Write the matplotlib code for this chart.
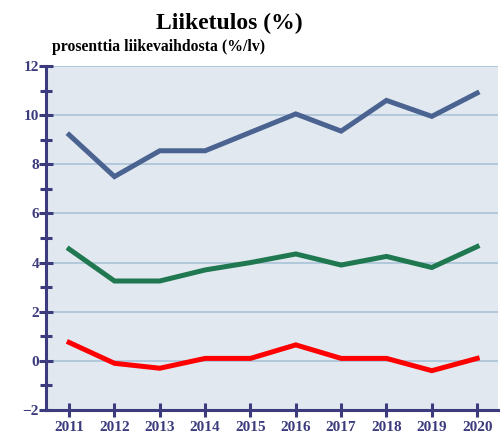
import matplotlib
matplotlib.use('Agg')
import matplotlib.pyplot as plt
from matplotlib.ticker import MultipleLocator

years = [2011, 2012, 2013, 2014, 2015, 2016, 2017, 2018, 2019, 2020]
sarja_sininen = [9.2, 7.5, 8.55, 8.55, 9.3, 10.05, 9.35, 10.6, 9.95, 10.9]
sarja_vihrea = [4.55, 3.25, 3.25, 3.7, 4.0, 4.35, 3.9, 4.25, 3.8, 4.65]
sarja_punainen = [0.75, -0.1, -0.3, 0.1, 0.1, 0.65, 0.1, 0.1, -0.4, 0.1]

navy = '#3b3b7d'
plt.rcParams['font.family'] = ['Liberation Serif', 'DejaVu Serif']

fig = plt.figure(figsize=(5.02, 4.33), dpi=100)
ax = fig.add_axes([46 / 502, 1 - 410 / 433, 452 / 502, 344 / 433])
ax.set_facecolor('#e1e8f0')

ax.plot(years, sarja_sininen, color='#4a6390', lw=3.6, solid_joinstyle='miter')
ax.plot(years, sarja_vihrea, color='#1f7850', lw=3.6, solid_joinstyle='miter')
ax.plot(years, sarja_punainen, color='#ff0000', lw=3.6, solid_joinstyle='miter')

ax.set_xlim(2010.49, 2020.46)
ax.set_ylim(-2, 12)
ax.set_xticks(years)
ax.yaxis.set_major_locator(MultipleLocator(2))
ax.yaxis.set_minor_locator(MultipleLocator(1))
ax.set_yticklabels(['\u22122' if v < 0 else str(int(v)) for v in ax.get_yticks()])
ax.grid(axis='y', which='major', color='#a8c3d6', lw=1.2)
ax.set_axisbelow(True)

for s in ['top', 'right']:
    ax.spines[s].set_visible(False)
for s in ['left', 'bottom']:
    ax.spines[s].set_color(navy)
    ax.spines[s].set_linewidth(2.2)

ax.tick_params(axis='both', which='both', direction='inout', color=navy,
               width=2.2, length=10, labelcolor=navy)
ax.tick_params(axis='y', which='minor', length=8)
ax.tick_params(axis='y', pad=0)
ax.tick_params(axis='x', pad=3)
for lab in ax.get_xticklabels() + ax.get_yticklabels():
    lab.set_fontweight('bold')
    lab.set_fontsize(11)

fig.text(0.456, 0.945, 'Liiketulos (%)', ha='center', va='center',
         fontsize=17, fontweight='bold')
fig.text(52 / 502, 1 - 47 / 433, 'prosenttia liikevaihdosta (%/lv)',
         ha='left', va='center', fontsize=11.3, fontweight='bold')

fig.savefig('out.png', dpi=100)
